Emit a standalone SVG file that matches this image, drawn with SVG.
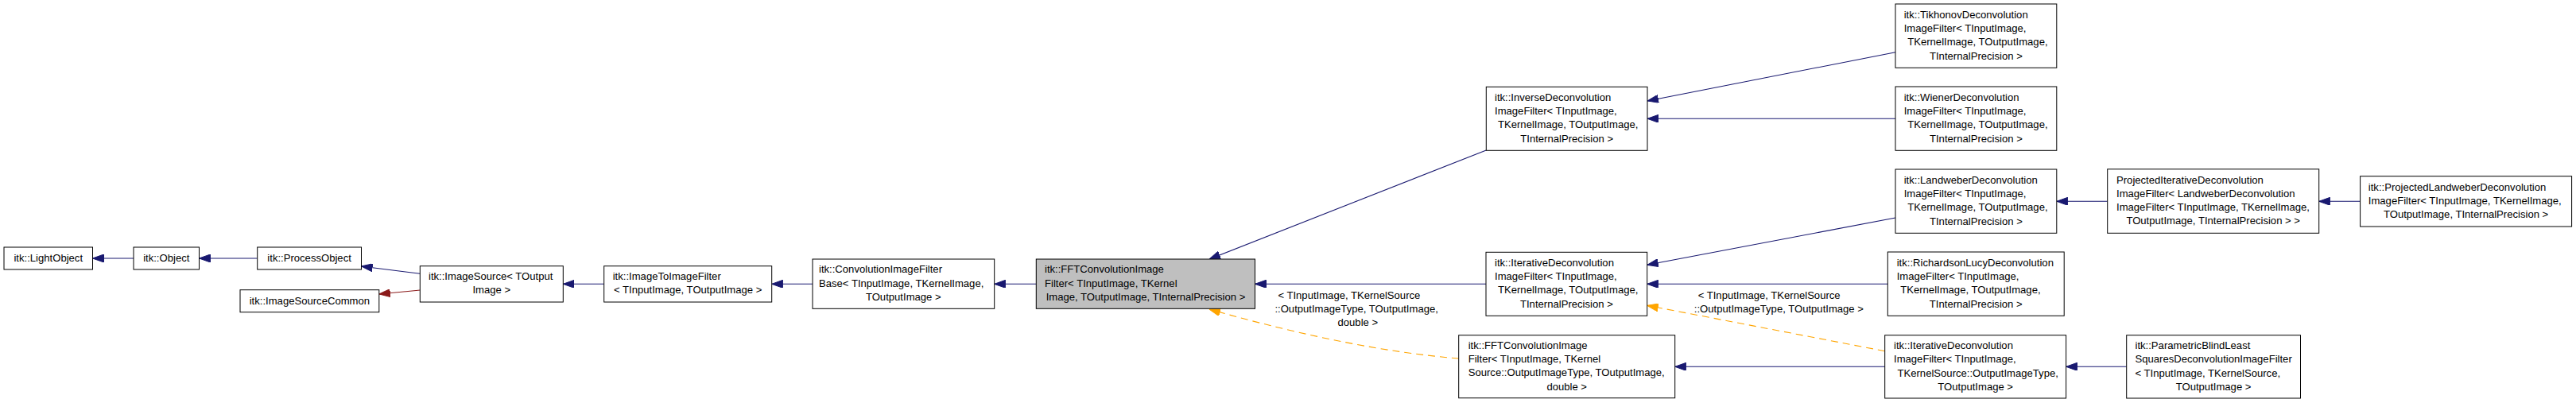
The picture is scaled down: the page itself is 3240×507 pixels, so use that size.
<svg xmlns="http://www.w3.org/2000/svg" width="3240" height="507" viewBox="0 0 3240 507">
<style>
.n rect{fill:#ffffff;stroke:#000000;stroke-width:1}
.n rect.focus{fill:#bfbfbf}
text{font-family:"Liberation Sans",Arial,Helvetica,sans-serif;font-size:13.1px;fill:#000000}
.c{text-anchor:middle}
.e{fill:none;stroke:#191970;stroke-width:1.1}
.r{fill:none;stroke:#8b1a1a;stroke-width:1.1}
.o{fill:none;stroke:#ffa500;stroke-width:1.1;stroke-dasharray:9,6}
</style>
<defs>
<marker id="ab" markerUnits="userSpaceOnUse" viewBox="0 0 14 10" refX="14" refY="5" markerWidth="14" markerHeight="10" orient="auto"><path d="M0,0 L14,5 L0,10 z" fill="#191970" stroke="#191970" stroke-width="1"/></marker>
<marker id="ar" markerUnits="userSpaceOnUse" viewBox="0 0 14 10" refX="14" refY="5" markerWidth="14" markerHeight="10" orient="auto"><path d="M0,0 L14,5 L0,10 z" fill="#8b1a1a" stroke="#8b1a1a" stroke-width="1"/></marker>
<marker id="ao" markerUnits="userSpaceOnUse" viewBox="0 0 14 10" refX="14" refY="5" markerWidth="14" markerHeight="10" orient="auto"><path d="M0,0 L14,5 L0,10 z" fill="#ffa500" stroke="#ffa500" stroke-width="1"/></marker>
</defs>
<rect x="0" y="0" width="3240" height="507" fill="#ffffff"/>

<g id="connectors">
<path class="e" marker-end="url(#ab)" d="M168,325 L116.5,325"/>
<path class="e" marker-end="url(#ab)" d="M323.7,325 L250.5,325"/>
<path class="e" marker-end="url(#ab)" d="M528.3,344.3 L454.5,335"/>
<path class="r" marker-end="url(#ar)" d="M528.3,365 L476.8,370"/>
<path class="e" marker-end="url(#ab)" d="M759.7,357.3 L708.3,357.3"/>
<path class="e" marker-end="url(#ab)" d="M1022,357.3 L970.7,357.3"/>
<path class="e" marker-end="url(#ab)" d="M1303.3,357.3 L1250.7,357.3"/>
<path class="e" marker-end="url(#ab)" d="M1869.3,189 L1521,326"/>
<path class="e" marker-end="url(#ab)" d="M1869,357.3 L1578.5,357.3"/>
<path class="o" marker-end="url(#ao)" d="M1834.7,451 Q1700,440 1521,389"/>
<path class="e" marker-end="url(#ab)" d="M2384,65.7 L2072,127"/>
<path class="e" marker-end="url(#ab)" d="M2384,149.3 L2072,149.3"/>
<path class="e" marker-end="url(#ab)" d="M2384,274 L2071.7,333.3"/>
<path class="e" marker-end="url(#ab)" d="M2374.3,357.3 L2071.7,357.3"/>
<path class="o" marker-end="url(#ao)" d="M2370.7,441.7 L2071.7,384.3"/>
<path class="e" marker-end="url(#ab)" d="M2370.7,461.3 L2106.7,461.3"/>
<path class="e" marker-end="url(#ab)" d="M2650.7,253.3 L2586.8,253.3"/>
<path class="e" marker-end="url(#ab)" d="M2968.6,253.3 L2916.7,253.3"/>
<path class="e" marker-end="url(#ab)" d="M2674.7,461.3 L2598.6,461.3"/>
<text x="1607.4" y="375.5">&lt; TInputImage, TKernelSource</text>
<text x="1603.4" y="392.5">::OutputImageType, TOutputImage,</text>
<text x="1682.5" y="409.5">double &gt;</text>
<text x="2135.7" y="375.5">&lt; TInputImage, TKernelSource</text>
<text x="2130.8" y="392.5">::OutputImageType, TOutputImage &gt;</text>
</g>

<g id="LightObject" class="n"><rect x="5" y="311" width="111.5" height="28"/><text class="c" x="60.75" y="329">itk::LightObject</text></g>
<g id="Object" class="n"><rect x="168" y="311" width="82.5" height="28"/><text class="c" x="209.25" y="329">itk::Object</text></g>
<g id="ProcessObject" class="n"><rect x="323.7" y="311" width="130.8" height="28"/><text class="c" x="389.1" y="329">itk::ProcessObject</text></g>
<g id="ImageSourceCommon" class="n"><rect x="302" y="364.7" width="174.8" height="28"/><text class="c" x="389.4" y="382.5">itk::ImageSourceCommon</text></g>
<g id="ImageSource" class="n"><rect x="528.3" y="334.7" width="180" height="45.3"/><text x="539" y="352.2">itk::ImageSource&lt; TOutput</text><text class="c" x="618.3" y="369.4">Image &gt;</text></g>
<g id="ImageToImageFilter" class="n"><rect x="759.7" y="334.7" width="211" height="45.3"/><text x="770.7" y="352.2">itk::ImageToImageFilter</text><text class="c" x="865.2" y="369.4">&lt; TInputImage, TOutputImage &gt;</text></g>
<g id="ConvolutionImageFilterBase" class="n"><rect x="1022" y="326" width="228.7" height="62.3"/><text x="1030" y="343.4">itk::ConvolutionImageFilter</text><text x="1030" y="360.6">Base&lt; TInputImage, TKernelImage,</text><text class="c" x="1136.3" y="377.8">TOutputImage &gt;</text></g>
<g id="FFTConvolutionImageFilter" class="n"><rect class="focus" x="1303.3" y="326" width="275.2" height="62.3"/><text x="1314" y="343.4">itk::FFTConvolutionImage</text><text x="1314" y="360.6">Filter&lt; TInputImage, TKernel</text><text class="c" x="1441" y="377.8">Image, TOutputImage, TInternalPrecision &gt;</text></g>
<g id="InverseDeconvolutionImageFilter" class="n"><rect x="1869.3" y="109.3" width="202.7" height="80"/><text x="1880" y="127">itk::InverseDeconvolution</text><text x="1880" y="144.2">ImageFilter&lt; TInputImage,</text><text x="1884" y="161.4">TKernelImage, TOutputImage,</text><text class="c" x="1970.7" y="178.6">TInternalPrecision &gt;</text></g>
<g id="IterativeDeconvolutionImageFilter" class="n"><rect x="1869" y="317.3" width="202.7" height="80"/><text x="1880" y="335">itk::IterativeDeconvolution</text><text x="1880" y="352.2">ImageFilter&lt; TInputImage,</text><text x="1884" y="369.4">TKernelImage, TOutputImage,</text><text class="c" x="1970.4" y="386.6">TInternalPrecision &gt;</text></g>
<g id="FFTConvolutionImageFilter2" class="n"><rect x="1834.7" y="421.7" width="272" height="79"/><text x="1846.7" y="438.9">itk::FFTConvolutionImage</text><text x="1846.7" y="456.1">Filter&lt; TInputImage, TKernel</text><text x="1846.7" y="473.3">Source::OutputImageType, TOutputImage,</text><text class="c" x="1970.7" y="490.5">double &gt;</text></g>
<g id="TikhonovDeconvolutionImageFilter" class="n"><rect x="2384" y="5" width="202.8" height="80.3"/><text x="2394.7" y="22.9">itk::TikhonovDeconvolution</text><text x="2394.7" y="40.1">ImageFilter&lt; TInputImage,</text><text x="2399.2" y="57.3">TKernelImage, TOutputImage,</text><text class="c" x="2485.4" y="74.5">TInternalPrecision &gt;</text></g>
<g id="WienerDeconvolutionImageFilter" class="n"><rect x="2384" y="109" width="202.8" height="80.3"/><text x="2394.7" y="126.9">itk::WienerDeconvolution</text><text x="2394.7" y="144.1">ImageFilter&lt; TInputImage,</text><text x="2399.2" y="161.3">TKernelImage, TOutputImage,</text><text class="c" x="2485.4" y="178.5">TInternalPrecision &gt;</text></g>
<g id="LandweberDeconvolutionImageFilter" class="n"><rect x="2384" y="213" width="202.8" height="80.3"/><text x="2394.7" y="230.9">itk::LandweberDeconvolution</text><text x="2394.7" y="248.1">ImageFilter&lt; TInputImage,</text><text x="2399.2" y="265.3">TKernelImage, TOutputImage,</text><text class="c" x="2485.4" y="282.5">TInternalPrecision &gt;</text></g>
<g id="RichardsonLucyDeconvolutionImageFilter" class="n"><rect x="2374.3" y="317" width="221.9" height="80.3"/><text x="2385.7" y="334.9">itk::RichardsonLucyDeconvolution</text><text x="2385.7" y="352.1">ImageFilter&lt; TInputImage,</text><text x="2390.2" y="369.3">TKernelImage, TOutputImage,</text><text class="c" x="2485.25" y="386.5">TInternalPrecision &gt;</text></g>
<g id="IterativeDeconvolutionImageFilter2" class="n"><rect x="2370.7" y="421.7" width="227.9" height="79.3"/><text x="2382" y="439.1">itk::IterativeDeconvolution</text><text x="2382" y="456.3">ImageFilter&lt; TInputImage,</text><text x="2386.5" y="473.5">TKernelSource::OutputImageType,</text><text class="c" x="2484.65" y="490.7">TOutputImage &gt;</text></g>
<g id="ParametricBlindLeastSquaresDeconvolutionImageFilter" class="n"><rect x="2674.7" y="421.7" width="218.8" height="79.3"/><text x="2685.5" y="439.1">itk::ParametricBlindLeast</text><text x="2685.5" y="456.3">SquaresDeconvolutionImageFilter</text><text x="2685.5" y="473.5">&lt; TInputImage, TKernelSource,</text><text class="c" x="2784.1" y="490.7">TOutputImage &gt;</text></g>
<g id="ProjectedIterativeDeconvolutionImageFilter" class="n"><rect x="2650.7" y="212.8" width="266" height="80.5"/><text x="2662" y="230.8">ProjectedIterativeDeconvolution</text><text x="2662" y="248">ImageFilter&lt; LandweberDeconvolution</text><text x="2662" y="265.2">ImageFilter&lt; TInputImage, TKernelImage,</text><text class="c" x="2783.7" y="282.4">TOutputImage, TInternalPrecision &gt; &gt;</text></g>
<g id="ProjectedLandweberDeconvolutionImageFilter" class="n"><rect x="2968.6" y="221.7" width="266" height="63.3"/><text x="2978.8" y="239.7">itk::ProjectedLandweberDeconvolution</text><text x="2978.8" y="256.9">ImageFilter&lt; TInputImage, TKernelImage,</text><text class="c" x="3101.6" y="274.1">TOutputImage, TInternalPrecision &gt;</text></g>
</svg>
